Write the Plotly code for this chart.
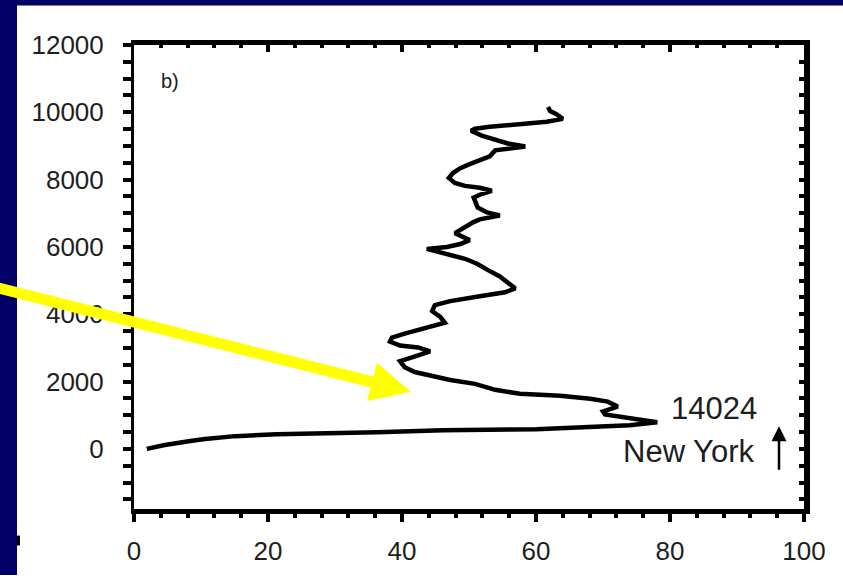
import plotly.graph_objects as go

# ---- data ----
value_pct = [1.9, 4.6, 8.4, 10.6, 15.1, 21.3, 36.3, 46.1, 60.1, 66.9, 74.0, 78.1,
             74.0, 70.3, 70.0, 72.2, 70.7, 68.1, 63.6, 57.6, 53.9, 50.9, 47.2, 44.2,
             41.9, 40.4, 39.7, 41.5, 44.2, 42.4, 39.7, 38.2, 38.5, 40.4, 43.4, 46.4,
             45.7, 44.5, 44.9, 47.2, 51.6, 55.4, 56.9, 54.6, 52.7, 51.2, 49.4, 47.2,
             43.7, 46.7, 48.7, 50.1, 47.9, 50.6, 51.6, 54.6, 52.7, 51.3, 50.7, 51.6,
             53.4, 51.6, 49.4, 47.9, 47.0, 47.6, 48.7, 50.1, 51.6, 53.1, 53.9, 58.4,
             55.8, 53.4, 51.9, 50.3, 50.9, 53.1, 58.4, 61.6, 64.0, 63.0, 62.1, 61.8]
altitude_m = [0, 117, 234, 293, 380, 439, 498, 556, 585, 644, 702, 790,
              907, 1024, 1112, 1259, 1405, 1493, 1580, 1639, 1756, 1932, 2049, 2166,
              2283, 2429, 2605, 2722, 2898, 3015, 3073, 3190, 3307, 3425, 3571, 3747,
              3922, 4098, 4274, 4391, 4537, 4654, 4771, 5122, 5327, 5503, 5649, 5766,
              5942, 6000, 6088, 6205, 6410, 6732, 6820, 6937, 7025, 7171, 7464, 7552,
              7669, 7757, 7815, 7903, 8049, 8196, 8342, 8459, 8576, 8693, 8869, 8986,
              9074, 9220, 9308, 9454, 9513, 9571, 9659, 9718, 9806, 9952, 10040, 10157]

x_range = [0, 100]
y_range = [-1785, 12000]
x_ticks = [0, 20, 40, 60, 80, 100]
x_tick_labels = ["0", "20", "40", "60", "80", "100"]
y_ticks = [0, 2000, 4000, 6000, 8000, 10000, 12000]
y_tick_labels = ["0", "2000", "4000", "6000", "8000", "10000", "12000"]
panel_label = "b)"
station_id = "14024"
station_name = "New York"

# ---- layout geometry ----
W, H = 843, 578
ML, MR, MT, MB = 134, 39, 45, 62
PW, PH = W - ML - MR, H - MT - MB


def px(xp, yp):
    """pixel position -> paper coordinates (for decorations only)"""
    return (xp - ML) / PW, (H - MB - yp) / PH


NAVY = "#000066"
FONT = "Liberation Sans, Arial, sans-serif"
TXT = "#1e1e1e"

fig = go.Figure()
fig.add_trace(go.Scatter(x=value_pct, y=altitude_m, mode="lines",
                         line=dict(color="black", width=4.5),
                         showlegend=False, hoverinfo="skip"))
fig.add_trace(go.Scatter(x=[None], y=[None], xaxis="x2", yaxis="y2",
                         showlegend=False, hoverinfo="skip"))

fig.update_layout(
    width=W, height=H,
    margin=dict(l=ML, r=MR, t=MT, b=MB, pad=0),
    paper_bgcolor="white", plot_bgcolor="white",
    font=dict(family=FONT, size=26, color=TXT),
    xaxis=dict(range=x_range, tickvals=x_ticks, ticktext=x_tick_labels,
               ticks="outside", ticklen=8,
               tickwidth=4, tickcolor="black", showline=True, linewidth=5,
               linecolor="black", showgrid=False, zeroline=False,
               ticklabelstandoff=7,
               minor=dict(dtick=4, tick0=0, ticks="outside", ticklen=4,
                          tickwidth=4, tickcolor="black", showgrid=False)),
    yaxis=dict(range=y_range, tickvals=y_ticks, ticktext=y_tick_labels,
               ticks="outside", ticklen=8,
               tickwidth=4, tickcolor="black", showline=True, linewidth=3,
               linecolor="black", showgrid=False, zeroline=False,
               ticklabelstandoff=14,
               minor=dict(dtick=500, tick0=0, ticks="outside", ticklen=8,
                          tickwidth=4, tickcolor="black", showgrid=False)),
    xaxis2=dict(range=x_range, overlaying="x", side="top", anchor="y2",
                tickvals=x_ticks, ticks="inside", ticklen=7, tickwidth=4,
                tickcolor="black", showline=True, linewidth=5, linecolor="black",
                showticklabels=False, showgrid=False, zeroline=False,
                minor=dict(dtick=4, tick0=0, ticks="inside", ticklen=3,
                           tickwidth=4, tickcolor="black", showgrid=False)),
    yaxis2=dict(range=y_range, overlaying="y", side="right", anchor="x2",
                dtick=500, tick0=0, ticks="inside", ticklen=5, tickwidth=4,
                tickcolor="black", showline=True, linewidth=6, linecolor="black",
                showticklabels=False, showgrid=False, zeroline=False),
)

# navy slide border (left and top)
x0, _ = px(-5, 0)
x1, _ = px(17, 0)
_, yb = px(0, H + 5)
_, yt = px(0, -5)
_, yt2 = px(0, 5)
x_end, _ = px(W + 5, 0)
fig.add_shape(type="rect", xref="paper", yref="paper", x0=x0, x1=x1, y0=yb, y1=yt,
              fillcolor=NAVY, line=dict(width=0), layer="below")
fig.add_shape(type="rect", xref="paper", yref="paper", x0=x0, x1=x_end, y0=yt2, y1=yt,
              fillcolor=NAVY, line=dict(width=0), layer="below")
# small dark fragment at lower left
a = px(17, 543)
b = px(20, 553)
fig.add_shape(type="rect", xref="paper", yref="paper", x0=a[0], x1=b[0], y0=b[1], y1=a[1],
              fillcolor="black", line=dict(width=0))

# yellow pointer arrow
pts = [(-6, 284.9), (373.4, 381.4), (377.0, 367.6), (410.8, 396.9),
       (367.0, 406.4), (370.6, 392.6), (-8, 295.6)]
path = ""
for i, (xx, yy) in enumerate(pts):
    u, v = px(xx, yy)
    path += ("M" if i == 0 else "L") + f"{u:.5f},{v:.5f} "
path += "Z"
fig.add_shape(type="path", xref="paper", yref="paper", path=path,
              fillcolor="#ffff00", line=dict(width=0), layer="above")

# text annotations
u, v = px(170, 82)
fig.add_annotation(xref="paper", yref="paper", x=u, y=v, text=panel_label,
                   xanchor="center", yanchor="middle",
                   showarrow=False, font=dict(size=20, color=TXT))
u, v = px(714, 414)
fig.add_annotation(xref="paper", yref="paper", x=u, y=v, text=station_id,
                   xanchor="center", yanchor="middle",
                   showarrow=False, font=dict(size=31, color=TXT))
u, v = px(688, 458)
fig.add_annotation(xref="paper", yref="paper", x=u, y=v, text=station_name,
                   xanchor="center", yanchor="middle",
                   showarrow=False, font=dict(size=31, color=TXT))
u, v = px(779, 432)
fig.add_annotation(xref="paper", yref="paper", x=u, y=v, text="", showarrow=True,
                   ax=0, ay=45, arrowhead=2, arrowsize=1.2, arrowwidth=2.5,
                   arrowcolor="black", standoff=0)

fig.write_html("out.html",
               config={"displayModeBar": False},
               post_script="document.body.style.margin='0';"
                           "document.body.style.overflow='hidden';")
